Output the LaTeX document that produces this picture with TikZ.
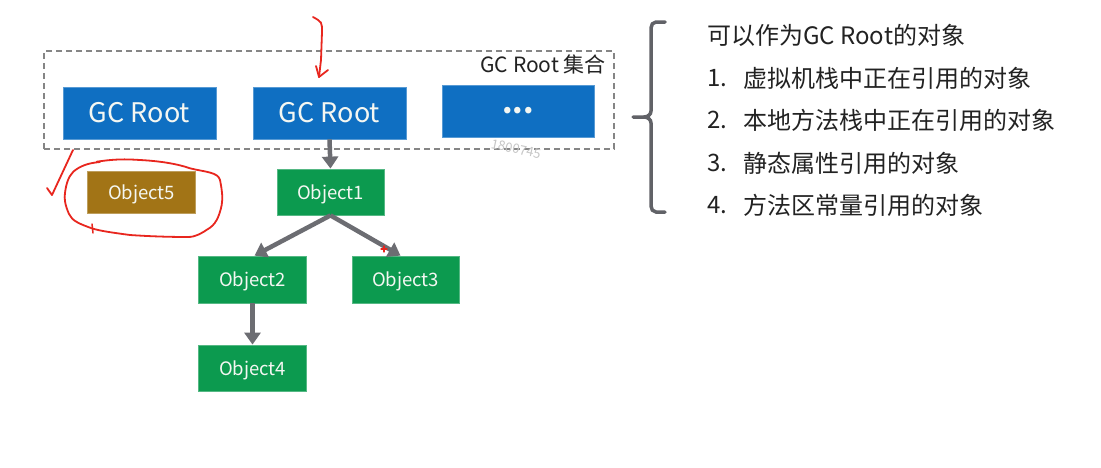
\documentclass[tikz,border=0pt]{standalone}
\usepackage{fontspec}
\setmainfont{Noto Sans CJK SC}
\usetikzlibrary{arrows.meta}
\definecolor{rootblue}{HTML}{0F6FC2}
\definecolor{objgreen}{HTML}{0C9A4F}
\definecolor{objbrown}{HTML}{A27416}
\definecolor{arrgray}{HTML}{6C6D72}
\definecolor{dashgray}{HTML}{858585}
\definecolor{penred}{HTML}{E8261E}
\definecolor{txtdark}{HTML}{222222}
\definecolor{boxtxt}{HTML}{F4F7F2}
\tikzset{
  rootbox/.style={rectangle, fill=rootblue, draw=rootblue!70!white, line width=0.8pt, inner sep=0pt, minimum width=153pt, minimum height=52pt, text=boxtxt, font=\fontsize{27}{30}\selectfont, text height=21pt, text depth=2pt},
  objbox/.style={rectangle, fill=objgreen, draw=objgreen!70!white, line width=0.8pt, inner sep=0pt, minimum width=108pt, minimum height=46pt, text=boxtxt, font=\fontsize{18.5}{22}\selectfont, text height=16.5pt, text depth=2pt},
  deadbox/.style={objbox, fill=objbrown, draw=objbrown!70!white, minimum height=42pt},
  refarrow/.style={draw=arrgray, line width=4.5pt, -{Triangle[width=16pt,length=12pt]}},
  redpen/.style={draw=penred, line width=1.8pt, line cap=round, line join=round},
  listtxt/.style={anchor=west, inner sep=0pt, text=txtdark, font=\fontsize{24}{28}\selectfont},
}
\begin{document}
\begin{tikzpicture}[x=1pt, y=-1pt]
\useasboundingbox (0,0) rectangle (1101,467);
\fill[white] (0,0) rectangle (1101,467);

% GC Root set
\node[draw=dashgray, dashed, dash pattern=on 6pt off 4pt, line width=2pt, minimum width=570pt, minimum height=98pt, inner sep=0pt] (set) at (329,100) {};
\node[anchor=north east, inner sep=0pt, text=txtdark, font=\fontsize{21}{24}\selectfont] (setlabel) at (606,55) {GC Root 集合};

\node[rootbox] (gc1) at (139.5,113) {GC Root};
\node[rootbox] (gc2) at (329.5,113) {GC Root};
\node[rootbox, minimum width=152pt, font=\bfseries\fontsize{30}{30}\selectfont, text height=, text depth=] (gc3) at (518,111) {...};

\node[text=gray!45, rotate=-12, font=\itshape\fontsize{13}{15}\selectfont] (wm) at (516,149) {1800745};

% objects
\node[deadbox] (o5) at (141.5,192) {Object5};
\node[objbox, minimum width=107pt] (o1) at (330.5,192) {Object1};
\node[objbox, minimum height=47pt] (o2) at (252.5,279.5) {Object2};
\node[objbox, minimum width=107pt, minimum height=47pt] (o3) at (405.5,279.5) {Object3};
\node[objbox] (o4) at (252.5,368) {Object4};

% references
\draw[refarrow] (gc2.south) -- (o1.north);
\draw[refarrow] (o1.south) -- ([xshift=2pt]o2.north);
\draw[refarrow] (o1.south) -- ([xshift=-5pt]o3.north);
\draw[refarrow] (o2.south) -- (o4.north);

% bracket
\draw[draw=arrgray!90!black, line width=3.5pt, line cap=round] (665,22) -- (656,22) to[out=180,in=90] (651,28) -- (651,111) to[out=-90,in=0] (644,117) -- (633,117);
\draw[draw=arrgray!90!black, line width=3.5pt, line cap=round] (644,117) to[out=0,in=90] (651,123) -- (651,206) to[out=-90,in=180] (656,212) -- (665,212);

% list
\node[listtxt] (title) at (707,35) {可以作为GC Root的对象};
\node[listtxt] (n1) at (707,78) {1.};
\node[listtxt] (t1) at (743,78) {虚拟机栈中正在引用的对象};
\node[listtxt] (n2) at (707,120) {2.};
\node[listtxt] (t2) at (743,120) {本地方法栈中正在引用的对象};
\node[listtxt] (n3) at (707,163) {3.};
\node[listtxt] (t3) at (743,163) {静态属性引用的对象};
\node[listtxt] (n4) at (707,205) {4.};
\node[listtxt] (t4) at (743,205) {方法区常量引用的对象};

% red pen annotations
\draw[redpen] (313,17) .. controls (322,22) .. (322,32) -- (321,60) -- (319,77);
\draw[redpen] (316,66) -- (319,77) -- (328,70);
\draw[redpen] (73,150) -- (52,195) -- (47,188);
\draw[redpen] (96.7,161.7) .. controls (115,159) and (125,159) .. (140,160)
  .. controls (160,161) and (178,164) .. (190,168.3)
  .. controls (205,172) and (218,172) .. (220,180)
  .. controls (222,190) and (223,198) .. (221.7,205)
  .. controls (219,218) and (215,225) .. (208,229)
  .. controls (202,233) and (196,237) .. (188,237)
  .. controls (165,237) and (145,236) .. (130,235)
  .. controls (115,233) and (100,231) .. (91.7,228.3)
  .. controls (80,224) and (72,221) .. (69,214)
  .. controls (65,205) and (64,198) .. (65,193)
  .. controls (66,185) and (68,177) .. (73.3,171.7)
  .. controls (80,166) and (88,163) .. (100,162);
\draw[redpen, line width=1.5pt] (92,224) -- (93,233);
\draw[redpen, line width=1.2pt] (381,249) -- (387,249) (384,246) -- (384,252);
\end{tikzpicture}
\end{document}
